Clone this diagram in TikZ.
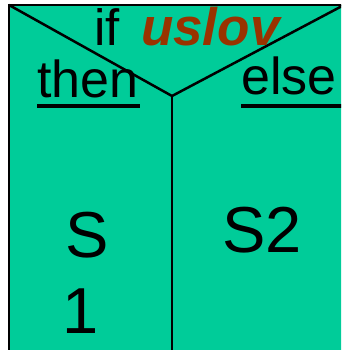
\documentclass[tikz,border=0pt]{standalone}
\usepackage{fontspec}
\setmainfont{Liberation Sans}
\definecolor{boxgreen}{HTML}{00CC99}
\definecolor{condbrown}{HTML}{993300}
\tikzset{
    lbl/.style={inner sep=0pt, anchor=base west, font=\fontsize{52}{52}\selectfont},
    stmt/.style={inner sep=0pt, anchor=base west, font=\fontsize{65}{65}\selectfont},
    edge/.style={line width=2.5pt},
    uline/.style={line width=4pt}
}
\begin{document}
\begin{tikzpicture}[x=1pt, y=-1pt]
    \useasboundingbox (0,0) rectangle (341,350);
    \clip (0,0) rectangle (341,350);
    % Box
    \draw[edge, fill=boxgreen] (9,5) rectangle (344,370);
    \coordinate (tl) at (9,5);
    \coordinate (tr) at (344,5);
    \coordinate (mid) at (172,96);
    \coordinate (bot) at (172,370);
    % Lines
    \draw[edge] (tl) -- (mid) -- (tr);
    \draw[edge] (mid) -- (bot);
    % Labels
    \node[lbl, font=\fontsize{51}{51}\selectfont] at (94,46) (cond) {if\hspace{0.42em}\textcolor{condbrown}{\fontsize{53}{53}\selectfont\textbf{\textit{uslov}}}};
    \node[lbl] at (37,98) (then) {then};
    \node[lbl] at (241,95) (else) {else};
    \draw[uline] ([yshift=-8pt]then.base west) -- ([yshift=-8pt,xshift=1pt]then.base east);
    \draw[uline] ([yshift=-11pt]else.base west) -- ([yshift=-11pt,xshift=5pt]else.base east);
    % Statements
    \node[stmt] at (65,257) (sa) {S};
    \node[stmt] at (62,333) (sb) {1};
    \node[stmt] at (222,252) (sc) {S2};
\end{tikzpicture}
\end{document}
